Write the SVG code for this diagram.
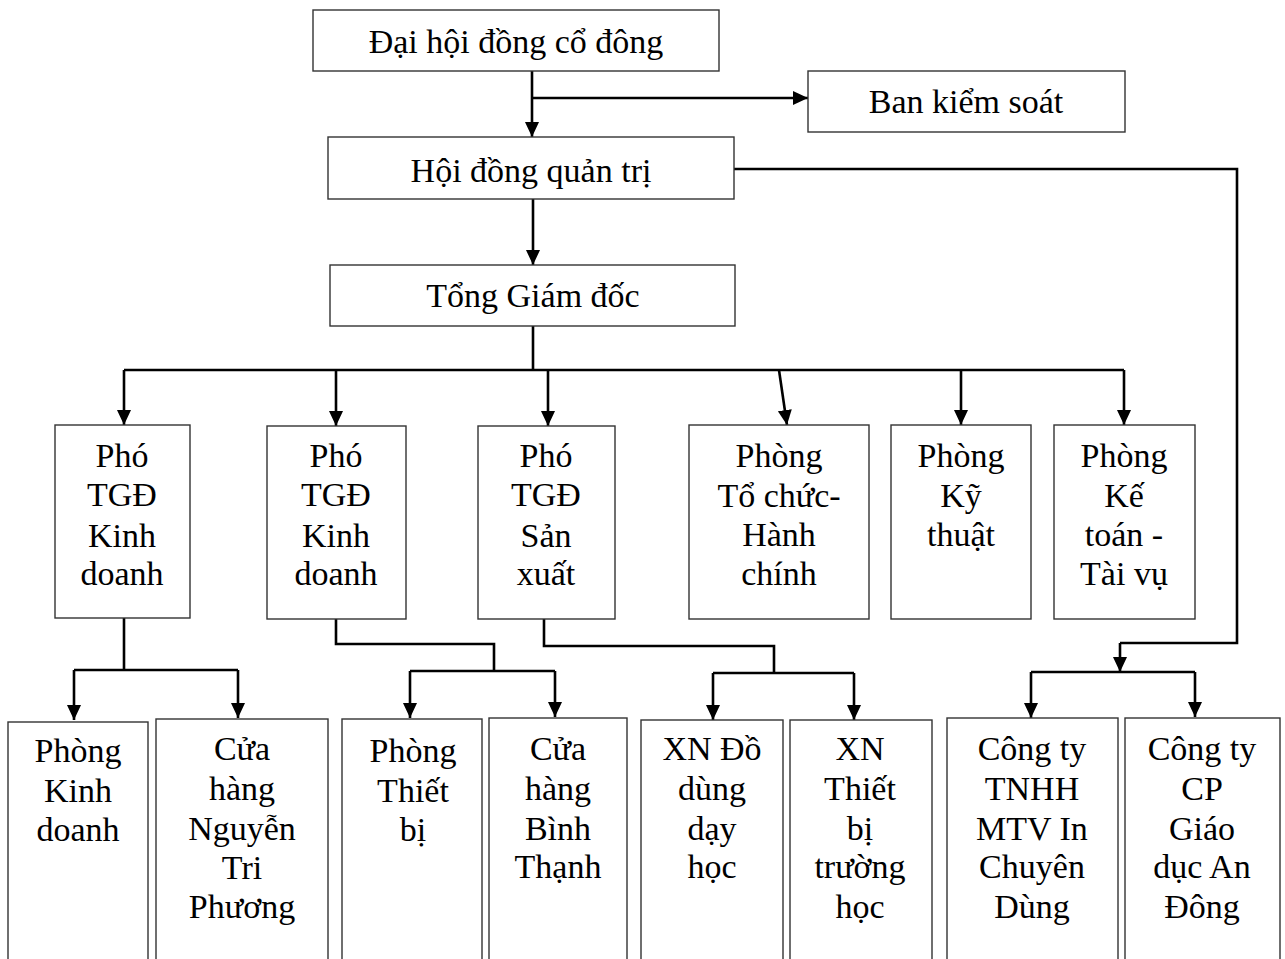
<svg xmlns="http://www.w3.org/2000/svg" width="1285" height="959" viewBox="0 0 1285 959">
<style>
.box{fill:#fff;stroke:#333;stroke-width:1.4}
.t{font-family:"Liberation Serif","Times New Roman",serif;font-size:34px;fill:#000;text-anchor:middle}
.c{fill:none;stroke:#000;stroke-width:2.6}
.a{marker-end:url(#ah)}
</style>
<defs>
<marker id="ah" markerUnits="userSpaceOnUse" markerWidth="16" markerHeight="16" refX="15" refY="7" orient="auto" viewBox="0 0 16 14">
<path d="M0,0 L15,7 L0,14 z" fill="#000"/>
</marker>
</defs>
<rect width="1285" height="959" fill="#fff"/>
<g id="connectors">
<path class="c a" d="M532,71 V137"/>
<path class="c a" d="M532,98 H808"/>
<path class="c" d="M734,169 H1237 V643 H1120"/>
<path class="c a" d="M1120,643 V672"/>
<path class="c a" d="M533,199 V265"/>
<path class="c" d="M533,326 V370"/>
<path class="c" d="M124,370 H1124"/>
<path class="c a" d="M124,370 V425"/>
<path class="c a" d="M336,370 V426"/>
<path class="c a" d="M548,370 V426"/>
<path class="c a" d="M779,370 L787,425"/>
<path class="c a" d="M961,370 V425"/>
<path class="c a" d="M1124,370 V425"/>
<path class="c" d="M124,618 V670"/>
<path class="c" d="M74,670 H238"/>
<path class="c a" d="M74,670 V720"/>
<path class="c a" d="M238,670 V718"/>
<path class="c" d="M336,619 V644 H494 V671"/>
<path class="c" d="M410,671 H555"/>
<path class="c a" d="M410,671 V718"/>
<path class="c a" d="M555,671 V717"/>
<path class="c" d="M544,619 V646 H774 V673"/>
<path class="c" d="M713,673 H854"/>
<path class="c a" d="M713,673 V720"/>
<path class="c a" d="M854,673 V720"/>
<path class="c" d="M1031,672 H1195"/>
<path class="c a" d="M1031,672 V718"/>
<path class="c a" d="M1195,672 V717"/>
</g>
<g id="dhcd"><rect class="box" x="313" y="10" width="406" height="61"/><text class="t" x="516" y="53">Đại hội đồng cổ đông</text></g>
<g id="bks"><rect class="box" x="808" y="71" width="317" height="61"/><text class="t" x="966" y="113">Ban kiểm soát</text></g>
<g id="hdqt"><rect class="box" x="328" y="137" width="406" height="62"/><text class="t" x="531" y="182">Hội đồng quản trị</text></g>
<g id="tgd"><rect class="box" x="330" y="265" width="405" height="61"/><text class="t" x="533" y="307">Tổng Giám đốc</text></g>
<g id="pho1"><rect class="box" x="55" y="425" width="135" height="193"/><text class="t" x="122" y="467">Phó<tspan x="122" y="506">TGĐ</tspan><tspan x="122" y="547">Kinh</tspan><tspan x="122" y="585">doanh</tspan></text></g>
<g id="pho2"><rect class="box" x="267" y="426" width="139" height="193"/><text class="t" x="336" y="467">Phó<tspan x="336" y="506">TGĐ</tspan><tspan x="336" y="547">Kinh</tspan><tspan x="336" y="585">doanh</tspan></text></g>
<g id="pho3"><rect class="box" x="478" y="426" width="137" height="193"/><text class="t" x="546" y="467">Phó<tspan x="546" y="506">TGĐ</tspan><tspan x="546" y="547">Sản</tspan><tspan x="546" y="585">xuất</tspan></text></g>
<g id="tochuc"><rect class="box" x="689" y="425" width="180" height="194"/><text class="t" x="779" y="467">Phòng<tspan x="779" y="507">Tổ chức-</tspan><tspan x="779" y="546">Hành</tspan><tspan x="779" y="585">chính</tspan></text></g>
<g id="kythuat"><rect class="box" x="891" y="425" width="140" height="194"/><text class="t" x="961" y="467">Phòng<tspan x="961" y="507">Kỹ</tspan><tspan x="961" y="546">thuật</tspan></text></g>
<g id="ketoan"><rect class="box" x="1054" y="425" width="141" height="194"/><text class="t" x="1124" y="467">Phòng<tspan x="1124" y="507">Kế</tspan><tspan x="1124" y="546">toán -</tspan><tspan x="1124" y="585">Tài vụ</tspan></text></g>
<g id="pkd"><rect class="box" x="8" y="722" width="140" height="250"/><text class="t" x="78" y="762">Phòng<tspan x="78" y="802">Kinh</tspan><tspan x="78" y="841">doanh</tspan></text></g>
<g id="chntp"><rect class="box" x="156" y="719" width="172" height="250"/><text class="t" x="242" y="760">Cửa<tspan x="242" y="800">hàng</tspan><tspan x="242" y="840">Nguyễn</tspan><tspan x="242" y="879">Tri</tspan><tspan x="242" y="918">Phương</tspan></text></g>
<g id="ptb"><rect class="box" x="342" y="719" width="140" height="250"/><text class="t" x="413" y="762">Phòng<tspan x="413" y="802">Thiết</tspan><tspan x="413" y="841">bị</tspan></text></g>
<g id="chbt"><rect class="box" x="489" y="718" width="138" height="250"/><text class="t" x="558" y="760">Cửa<tspan x="558" y="800">hàng</tspan><tspan x="558" y="840">Bình</tspan><tspan x="558" y="878">Thạnh</tspan></text></g>
<g id="xndd"><rect class="box" x="641" y="720" width="142" height="250"/><text class="t" x="712" y="760">XN Đồ<tspan x="712" y="800">dùng</tspan><tspan x="712" y="840">dạy</tspan><tspan x="712" y="878">học</tspan></text></g>
<g id="xntb"><rect class="box" x="790" y="720" width="142" height="250"/><text class="t" x="860" y="760">XN<tspan x="860" y="800">Thiết</tspan><tspan x="860" y="840">bị</tspan><tspan x="860" y="878">trường</tspan><tspan x="860" y="918">học</tspan></text></g>
<g id="cttnhh"><rect class="box" x="947" y="718" width="171" height="250"/><text class="t" x="1032" y="760">Công ty<tspan x="1032" y="800">TNHH</tspan><tspan x="1032" y="840">MTV In</tspan><tspan x="1032" y="878">Chuyên</tspan><tspan x="1032" y="918">Dùng</tspan></text></g>
<g id="ctcp"><rect class="box" x="1125" y="718" width="155" height="250"/><text class="t" x="1202" y="760">Công ty<tspan x="1202" y="800">CP</tspan><tspan x="1202" y="840">Giáo</tspan><tspan x="1202" y="878">dục An</tspan><tspan x="1202" y="918">Đông</tspan></text></g>
</svg>
